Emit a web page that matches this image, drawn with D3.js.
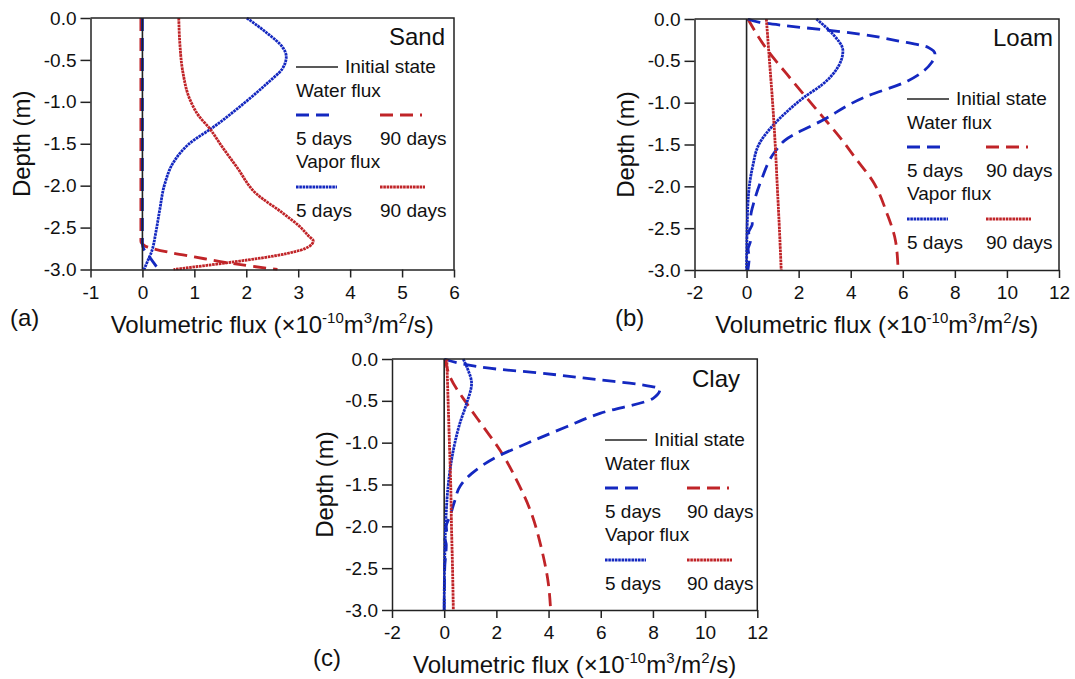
<!DOCTYPE html>
<html><head><meta charset="utf-8">
<script src="https://cdn.jsdelivr.net/npm/d3@7"></script>
<style>
body{margin:0;background:#fff}
svg{display:block}
text{font-family:"Liberation Sans",Arial,sans-serif;fill:#111}
</style>
</head><body>
<svg id="chart" width="1075" height="679"></svg>
<script>
// ---------------- DATA ----------------
const depthTicks = [0, -0.5, -1, -1.5, -2, -2.5, -3];
const depthTickLabels = ["0.0", "-0.5", "-1.0", "-1.5", "-2.0", "-2.5", "-3.0"];
const sandFluxTicks = [-1, 0, 1, 2, 3, 4, 5, 6];
const sandFluxTickLabels = ["-1", "0", "1", "2", "3", "4", "5", "6"];
const wideFluxTicks = [-2, 0, 2, 4, 6, 8, 10, 12];
const wideFluxTickLabels = ["-2", "0", "2", "4", "6", "8", "10", "12"];
const soilNames = ["Sand", "Loam", "Clay"];
const panelTags = ["(a)", "(b)", "(c)"];
const legendLabels = ["Initial state", "Water flux", "Vapor flux", "5 days", "90 days"];

// series as [flux (1e-10 m3/m2/s), depth (m)]
const initialState = [[0, 0], [0, -3]];

const sandWater5 = [[0, 0], [0, -2.7], [0.03, -2.76], [0.17, -2.88], [0.31, -3.0]];
const sandWater90 = [[-0.03, 0], [-0.03, -2.66], [0.05, -2.72], [0.2, -2.75], [0.55, -2.8], [1.0, -2.85], [1.75, -2.93], [2.6, -3.0]];
const sandVapor5 = [[2.01, 0], [2.4, -0.18], [2.7, -0.35], [2.77, -0.46], [2.7, -0.6], [2.4, -0.78], [1.95, -1.02], [1.37, -1.3], [0.9, -1.5], [0.6, -1.72], [0.43, -1.98], [0.33, -2.3], [0.26, -2.55], [0.18, -2.78], [0.1, -2.9], [0.03, -3.0]];
const sandVapor90 = [[0.7, 0], [0.72, -0.3], [0.78, -0.65], [0.92, -0.98], [1.1, -1.18], [1.27, -1.3], [1.55, -1.55], [1.82, -1.78], [2.2, -2.1], [2.71, -2.33], [3.05, -2.5], [3.2, -2.6], [3.29, -2.66], [3.2, -2.73], [2.78, -2.81], [1.75, -2.91], [0.99, -2.97], [0.6, -3.0]];

const loamWater5 = [[0.05, 0], [0.5, -0.04], [1.5, -0.08], [3.0, -0.13], [4.35, -0.18], [5.8, -0.26], [6.98, -0.34], [7.24, -0.42], [7.11, -0.52], [6.19, -0.74], [4.49, -0.94], [2.92, -1.21], [1.47, -1.45], [1.08, -1.59], [0.56, -1.93], [0.3, -2.17], [0.16, -2.37], [0.22, -2.45], [0.08, -2.55], [0.15, -2.65], [0.06, -2.75], [0.1, -2.85], [0.05, -3.0]];
const loamWater90 = [[0.05, 0], [0.82, -0.38], [1.55, -0.66], [2.3, -0.94], [2.9, -1.16], [3.6, -1.42], [4.2, -1.67], [4.85, -1.94], [5.4, -2.33], [5.72, -2.65], [5.82, -3.0]];
const loamVapor5 = [[2.68, 0], [3.31, -0.18], [3.7, -0.38], [3.5, -0.58], [2.92, -0.78], [2.19, -0.94], [1.47, -1.13], [1.08, -1.25], [0.49, -1.49], [0.23, -1.77], [0.1, -2.01], [0.03, -2.4], [0.0, -3.0]];
const loamVapor90 = [[0.76, 0], [0.88, -0.5], [1.0, -1.0], [1.1, -1.5], [1.18, -2.0], [1.26, -2.5], [1.33, -3.0]];

const clayWater5 = [[0.0, 0], [0.73, -0.06], [2.0, -0.12], [3.41, -0.16], [5.97, -0.25], [7.6, -0.31], [8.27, -0.36], [8.01, -0.47], [5.97, -0.65], [4.69, -0.81], [3.16, -1.01], [2.01, -1.17], [1.05, -1.37], [0.61, -1.52], [0.4, -1.7], [0.22, -1.88], [0.08, -2.0], [0.1, -2.08], [0.03, -2.15], [0.08, -2.22], [0.02, -2.5], [0.0, -3.0]];
const clayWater90 = [[0.03, 0], [0.22, -0.21], [0.86, -0.53], [1.5, -0.81], [2.14, -1.09], [2.78, -1.45], [3.29, -1.8], [3.74, -2.28], [3.99, -2.68], [4.08, -3.0]];
const clayVapor5 = [[0.73, 0], [0.9, -0.12], [1.05, -0.29], [0.86, -0.53], [0.6, -0.77], [0.35, -1.09], [0.16, -1.49], [0.07, -1.88], [0.02, -2.4], [0.0, -3.0]];
const clayVapor90 = [[0.1, 0], [0.15, -0.5], [0.2, -1.0], [0.25, -1.5], [0.28, -2.0], [0.32, -2.5], [0.35, -3.0]];

// ---------------- STYLE / LAYOUT ----------------
const BLUE = "#1428c0", RED = "#c02428", BLACK = "#222";
const FONT_TICK = 19, FONT_LEG = 19, FONT_NAME = 24, FONT_TITLE = 24, FONT_SUP = 15;

const panels = [
  { name: soilNames[0], tag: panelTags[0], left: 90.5, right: 454, top: 18, bottom: 269.5,
    domain: [-1, 6], ticks: sandFluxTicks, tickLabels: sandFluxTickLabels,
    series: { initial: initialState, w5: sandWater5, w90: sandWater90, v5: sandVapor5, v90: sandVapor90 },
    yTitleX: 30, xTitleY: 333, tagX: 10, tagY: 326, nameX: 445, nameY: 45,
    legX: 296, legY: 67, col2: 84 },
  { name: soilNames[1], tag: panelTags[1], left: 694.5, right: 1059, top: 19, bottom: 270,
    domain: [-2, 12], ticks: wideFluxTicks, tickLabels: wideFluxTickLabels,
    series: { initial: initialState, w5: loamWater5, w90: loamWater90, v5: loamVapor5, v90: loamVapor90 },
    yTitleX: 634, xTitleY: 333, tagX: 615, tagY: 326, nameX: 1053, nameY: 46,
    legX: 907, legY: 99, col2: 79 },
  { name: soilNames[2], tag: panelTags[2], left: 392, right: 757.3, top: 359, bottom: 610,
    domain: [-2, 12], ticks: wideFluxTicks, tickLabels: wideFluxTickLabels,
    series: { initial: initialState, w5: clayWater5, w90: clayWater90, v5: clayVapor5, v90: clayVapor90 },
    yTitleX: 333, xTitleY: 673, tagX: 313, tagY: 666, nameX: 740, nameY: 387,
    legX: 605, legY: 440, col2: 82 }
];

const styles = {
  initial: { color: BLACK, width: 1.6, dash: null },
  w5: { color: BLUE, width: 2.8, dash: "13,7" },
  w90: { color: RED, width: 2.8, dash: "13,7" },
  v5: { color: BLUE, width: 2.8, dash: "2.6,0.7" },
  v90: { color: RED, width: 2.8, dash: "2.6,0.7" }
};

const svg = d3.select("#chart");
svg.append("rect").attr("width", 1075).attr("height", 679).attr("fill", "#fff");

panels.forEach((p, pi) => {
  const x = d3.scaleLinear().domain(p.domain).range([p.left, p.right]);
  const y = d3.scaleLinear().domain([0, -3]).range([p.top, p.bottom]);
  const g = svg.append("g");

  const clipId = "clip" + pi;
  svg.append("clipPath").attr("id", clipId).append("rect")
    .attr("x", p.left).attr("y", p.top - 1).attr("width", p.right - p.left).attr("height", p.bottom - p.top + 2);

  const line = d3.line().x(d => x(d[0])).y(d => y(d[1])).curve(d3.curveMonotoneY);
  const lines = g.append("g").attr("clip-path", `url(#${clipId})`);
  ["w90", "w5", "initial", "v5", "v90"].forEach(k => {
    const s = styles[k];
    lines.append("path").datum(p.series[k]).attr("d", line)
      .attr("fill", "none").attr("stroke", s.color).attr("stroke-width", s.width)
      .attr("stroke-dasharray", s.dash);
  });

  // axes
  const xAxis = d3.axisBottom(x).tickValues(p.ticks).tickFormat((d, i) => p.tickLabels[i])
    .tickSize(8).tickSizeOuter(0).tickPadding(8);
  const yAxis = d3.axisLeft(y).tickValues(depthTicks).tickFormat((d, i) => depthTickLabels[i])
    .tickSize(10).tickSizeOuter(0).tickPadding(4);
  const gx = g.append("g").attr("transform", `translate(0,${p.bottom})`).call(xAxis);
  const gy = g.append("g").attr("transform", `translate(${p.left},0)`).call(yAxis);
  [gx, gy].forEach(a => {
    a.selectAll("path,line").attr("stroke", BLACK).attr("stroke-width", 1.5);
    a.selectAll("text").attr("font-size", FONT_TICK).attr("fill", "#111")
      .style("font-family", '"Liberation Sans",Arial,sans-serif');
  });
  // frame top/right
  g.append("path")
    .attr("d", `M${p.left},${p.top}H${p.right}V${p.bottom}`)
    .attr("fill", "none").attr("stroke", BLACK).attr("stroke-width", 1.5);

  // titles
  const cx = (p.left + p.right) / 2, cy = (p.top + p.bottom) / 2;
  g.append("text").attr("transform", `translate(${p.yTitleX},${cy}) rotate(-90)`)
    .attr("text-anchor", "middle").attr("font-size", FONT_TITLE).text("Depth (m)");
  const xt = g.append("text").attr("x", cx).attr("y", p.xTitleY)
    .attr("text-anchor", "middle").attr("font-size", FONT_TITLE);
  xt.append("tspan").text("Volumetric flux (\u00d710");
  xt.append("tspan").attr("dy", -10).attr("font-size", FONT_SUP).text("-10");
  xt.append("tspan").attr("dy", 10).text("m");
  xt.append("tspan").attr("dy", -10).attr("font-size", FONT_SUP).text("3");
  xt.append("tspan").attr("dy", 10).text("/m");
  xt.append("tspan").attr("dy", -10).attr("font-size", FONT_SUP).text("2");
  xt.append("tspan").attr("dy", 10).text("/s)");

  g.append("text").attr("x", p.tagX).attr("y", p.tagY).attr("font-size", FONT_TITLE).text(p.tag);
  g.append("text").attr("x", p.nameX).attr("y", p.nameY).attr("text-anchor", "end")
    .attr("font-size", FONT_NAME).text(p.name);

  // legend
  const L = g.append("g").attr("transform", `translate(${p.legX},${p.legY})`);
  const seg = (x0, x1, yy, s) => L.append("line").attr("x1", x0).attr("x2", x1).attr("y1", yy).attr("y2", yy)
    .attr("stroke", s.color).attr("stroke-width", s.width).attr("stroke-dasharray", s.dash);
  const txt = (xx, yy, t) => L.append("text").attr("x", xx).attr("y", yy).attr("font-size", FONT_LEG).text(t);
  seg(0, 42, 0, styles.initial);
  txt(49, 6, legendLabels[0]);
  txt(0, 30, legendLabels[1]);
  seg(0, 37, 48, styles.w5);
  seg(p.col2, p.col2 + 42, 48, styles.w90);
  txt(0, 78, legendLabels[3]);
  txt(p.col2, 78, legendLabels[4]);
  txt(0, 101, legendLabels[2]);
  seg(0, 41, 120, styles.v5);
  seg(p.col2, p.col2 + 45, 120, styles.v90);
  txt(0, 150, legendLabels[3]);
  txt(p.col2, 150, legendLabels[4]);
});
</script>
</body></html>
